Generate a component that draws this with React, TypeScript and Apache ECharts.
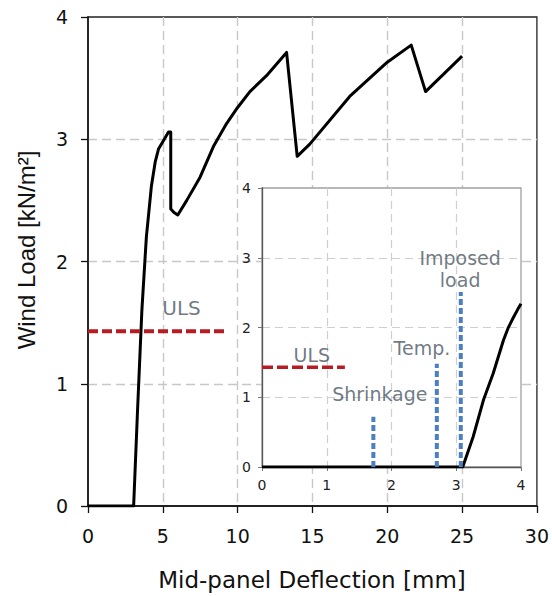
import React, { useEffect, useRef } from "react";
import * as echarts from "echarts";

// Main chart: load-deflection curve
const mainX = [0, 3.05, 3.3, 3.6, 3.9, 4.24, 4.5, 4.71, 5.0, 5.38, 5.53, 5.53, 5.75, 6.0, 6.6, 7.49, 8.38, 9.27, 10.0, 10.82, 11.93, 13.27, 13.98, 14.82, 17.49, 20.0, 21.6, 22.56, 25.0];
const mainY = [0, 0, 0.75, 1.6, 2.2, 2.62, 2.82, 2.92, 2.98, 3.06, 3.06, 2.43, 2.4, 2.38, 2.5, 2.69, 2.94, 3.13, 3.26, 3.39, 3.52, 3.71, 2.86, 2.96, 3.35, 3.63, 3.77, 3.39, 3.68];
const mainUlsX = [0, 9.2];
const mainUlsY = 1.43;
const mainTicksX = [0, 5, 10, 15, 20, 25, 30];
const mainTicksY = [0, 1, 2, 3, 4];

// Inset chart
const insetX = [0, 3.1, 3.26, 3.42, 3.57, 3.73, 3.8, 3.88, 3.95, 4.0];
const insetY = [0, 0, 0.43, 0.96, 1.34, 1.82, 1.99, 2.14, 2.26, 2.34];
const insetUlsX = [0, 1.28];
const insetUlsY = 1.43;
const stageNames = ["Shrinkage", "Temp.", "Imposed load"];
const stageX = [1.72, 2.7, 3.07];
const stageTop = [0.72, 1.48, 2.51];
const stageLabelX = [1.82, 2.47, 3.06];
const stageLabelY = [1.05, 1.7, 2.84];
const stageLabelText = ["Shrinkage", "Temp.", "Imposed\nload"];

const LS = '"Liberation Sans", Arial, sans-serif';
const DV = '"DejaVu Sans", sans-serif';
const annColor = "#4b5763";

export default function App() {
  const ref = useRef<HTMLDivElement>(null);
  useEffect(() => {
    if (!ref.current) return;
    const chart = echarts.init(ref.current, null, { renderer: "svg" });

    const gridDash = { color: "#c8c8c8", width: 1.4, type: [9, 5] as any };

    const series: any[] = [
      {
        type: "line",
        xAxisIndex: 0,
        yAxisIndex: 0,
        z: 2,
        data: mainX.map((x, i) => [x, mainY[i]]),
        showSymbol: false,
        symbol: "none",
        lineStyle: { color: "#000", width: 3, join: "round" },
      },
      {
        type: "line",
        xAxisIndex: 0,
        yAxisIndex: 0,
        z: 2,
        data: mainUlsX.map((x) => [x, mainUlsY]),
        symbol: "none",
        lineStyle: { color: "#b81c22", width: 4, type: [10, 4] },
      },
      {
        type: "scatter",
        xAxisIndex: 0,
        yAxisIndex: 0,
        z: 2,
        symbolSize: 0,
        data: [[6.25, 1.62]],
        label: {
          show: true,
          position: "inside",
          formatter: () => "ULS",
          fontFamily: DV,
          fontSize: 20,
          color: annColor,
        },
      },
      // inset
      {
        type: "line",
        xAxisIndex: 1,
        yAxisIndex: 1,
        z: 6,
        data: insetX.map((x, i) => [x, insetY[i]]),
        symbol: "none",
        lineStyle: { color: "#000", width: 3, join: "round" },
      },
      {
        type: "line",
        xAxisIndex: 1,
        yAxisIndex: 1,
        z: 6,
        data: insetUlsX.map((x) => [x, insetUlsY]),
        symbol: "none",
        lineStyle: { color: "#b81c22", width: 3.5, type: [11, 4] },
      },
      ...stageNames.map((n, i) => ({
        type: "line",
        name: n,
        xAxisIndex: 1,
        yAxisIndex: 1,
        z: 7,
        data: [
          [stageX[i], 0],
          [stageX[i], stageTop[i]],
        ],
        symbol: "none",
        lineStyle: { color: "#4a7fc0", width: 4, type: [6, 3] },
      })),
      {
        type: "scatter",
        xAxisIndex: 1,
        yAxisIndex: 1,
        z: 8,
        symbolSize: 0,
        data: [
          [0.77, 1.6, "ULS"],
          ...stageLabelText.map((t, i) => [stageLabelX[i], stageLabelY[i], t]),
        ],
        label: {
          show: true,
          position: "inside",
          formatter: (p: any) => p.value[2],
          fontFamily: DV,
          fontSize: 19,
          lineHeight: 22,
          color: annColor,
        },
      },
    ];

    chart.setOption({
      animation: false,
      backgroundColor: "#fff",
      grid: [
        {
          left: 88,
          top: 17,
          right: 14,
          bottom: 90,
          show: true,
          borderColor: "#222",
          borderWidth: 1.3,
          z: 0,
        },
        {
          left: 262,
          top: 188,
          width: 259,
          height: 279,
          show: true,
          backgroundColor: "#fff",
          borderColor: "#a0a0a0",
          borderWidth: 1.3,
          z: 3,
        },
      ],
      xAxis: [
        {
          type: "value",
          gridIndex: 0,
          min: mainTicksX[0],
          max: mainTicksX[mainTicksX.length - 1],
          interval: 5,
          z: 0,
          axisLine: { lineStyle: { color: "#111", width: 1.5 } },
          axisTick: { show: true, length: 7, lineStyle: { color: "#111", width: 1.3 } },
          axisLabel: { fontFamily: DV, fontSize: 19, color: "#111", margin: 20 },
          splitLine: { show: true, showMinLine: false, showMaxLine: false, lineStyle: gridDash },
        },
        {
          type: "value",
          gridIndex: 1,
          min: 0,
          max: 4,
          interval: 1,
          z: 4,
          axisLine: { lineStyle: { color: "#555", width: 1.3 } },
          axisTick: { show: true, length: 4, lineStyle: { color: "#777" } },
          axisLabel: { fontFamily: DV, fontSize: 14, color: "#222", margin: 11 },
          splitLine: { show: true, showMinLine: false, showMaxLine: false, lineStyle: { color: "#cfcfcf", width: 1.2, type: [8, 5] } },
        },
      ],
      yAxis: [
        {
          type: "value",
          gridIndex: 0,
          min: mainTicksY[0],
          max: mainTicksY[mainTicksY.length - 1],
          interval: 1,
          z: 0,
          axisLine: { show: true, lineStyle: { color: "#111", width: 1.5 } },
          axisTick: { show: true, length: 7, lineStyle: { color: "#111", width: 1.3 } },
          axisLabel: { fontFamily: DV, fontSize: 19, color: "#111", margin: 20 },
          splitLine: { show: true, showMinLine: false, showMaxLine: false, lineStyle: gridDash },
        },
        {
          type: "value",
          gridIndex: 1,
          min: 0,
          max: 4,
          interval: 1,
          z: 4,
          axisLine: { show: true, lineStyle: { color: "#555", width: 1.3 } },
          axisTick: { show: true, length: 4, lineStyle: { color: "#777" } },
          axisLabel: { fontFamily: DV, fontSize: 14, color: "#222", margin: 11 },
          splitLine: { show: true, showMinLine: false, showMaxLine: false, lineStyle: { color: "#cfcfcf", width: 1.2, type: [8, 5] } },
        },
      ],
      graphic: [
        {
          type: "text",
          x: 26,
          y: 250,
          rotation: Math.PI / 2,
          style: {
            text: "Wind Load [kN/m²]",
            font: `24px ${LS}`,
            fill: "#111",
            align: "center",
            verticalAlign: "middle",
          },
        },
        {
          type: "text",
          x: 312,
          y: 580,
          style: {
            text: "Mid-panel Deflection [mm]",
            font: `23px ${DV}`,
            fill: "#111",
            align: "center",
            verticalAlign: "middle",
          },
        },
      ],
      series,
    });
    return () => chart.dispose();
  }, []);
  return (
    <div
      ref={ref}
      style={{ position: "fixed", left: 0, top: 0, width: 552, height: 596, background: "#fff" }}
    />
  );
}
